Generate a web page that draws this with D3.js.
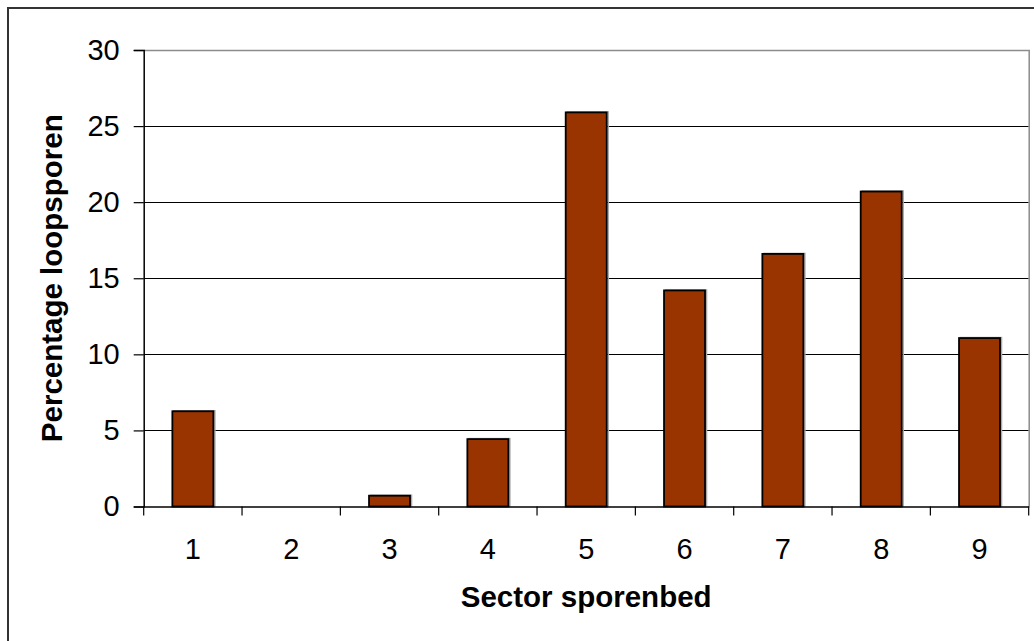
<!DOCTYPE html>
<html>
<head>
<meta charset="utf-8">
<script src="https://cdn.jsdelivr.net/npm/d3@7"></script>
<style>
  html, body { margin: 0; padding: 0; background: #fff; }
  svg { display: block; }
  text { font-family: "Liberation Sans", Arial, sans-serif; fill: #000; }
</style>
</head>
<body>
<svg id="chart" width="1034" height="641"></svg>
<script>
const categories = ["1", "2", "3", "4", "5", "6", "7", "8", "9"];
const values = [6.26, 0, 0.71, 4.43, 25.9, 14.2, 16.6, 20.7, 11.07];
const yTicks = [0, 5, 10, 15, 20, 25, 30];
const xTitle = "Sector sporenbed";
const yTitle = "Percentage loopsporen";

const svg = d3.select("#chart");
const pLeft = 143.7, pRight = 1028.7, pTop = 50, pBottom = 506.5;

// outer border
svg.append("rect").attr("x", 8).attr("y", 8).attr("width", 1040).attr("height", 650)
  .attr("fill", "#fff").attr("stroke", "#333").attr("stroke-width", 2);

const x = d3.scaleBand().domain(categories).range([pLeft, pRight]).padding(0);
const y = d3.scaleLinear().domain([0, 30]).range([pBottom, pTop]);

// gridlines
svg.append("g").selectAll("line").data(yTicks.filter(d => d > 0 && d < 30)).join("line")
  .attr("x1", pLeft).attr("x2", pRight)
  .attr("y1", d => Math.round(y(d)) + 0.5).attr("y2", d => Math.round(y(d)) + 0.5)
  .attr("stroke", "#000").attr("stroke-width", 1);

// plot border (grey top/right)
svg.append("path")
  .attr("d", `M${pLeft},${pTop + 0.5}H${pRight + 0.5}V${pBottom}`)
  .attr("fill", "none").attr("stroke", "#8c8c8c").attr("stroke-width", 1.5);

// bars
const bw = x.bandwidth() * 0.417;
const bars = svg.append("g");
bars.selectAll("rect.shadow").data(values).join("rect")
  .attr("class", "shadow")
  .attr("x", (d, i) => x(categories[i]) + (x.bandwidth() - bw) / 2 + 1.5)
  .attr("y", d => y(d) - 0.5)
  .attr("width", bw)
  .attr("height", d => pBottom - y(d))
  .attr("fill", "none").attr("stroke", "#aaa").attr("stroke-width", 1.5)
  .attr("display", d => d > 0 ? null : "none");
bars.selectAll("rect.bar").data(values).join("rect")
  .attr("class", "bar")
  .attr("x", (d, i) => x(categories[i]) + (x.bandwidth() - bw) / 2)
  .attr("y", d => y(d))
  .attr("width", bw)
  .attr("height", d => pBottom - y(d))
  .attr("fill", "#993300").attr("stroke", "#000").attr("stroke-width", 1.8)
  .attr("display", d => d > 0 ? null : "none");

// y axis
const yAxis = d3.axisLeft(y).tickValues(yTicks).tickSize(10).tickPadding(14).tickFormat(d3.format("d"));
const gy = svg.append("g").attr("transform", `translate(${pLeft},0)`).call(yAxis);
gy.select(".domain").attr("stroke", "#000").attr("stroke-width", 1.5);
gy.selectAll(".tick line").attr("stroke", "#000").attr("stroke-width", 1.2);
gy.selectAll(".tick text").attr("font-size", 29).attr("font-family", "Liberation Sans, Arial, sans-serif").attr("fill", "#000");

// x axis
const xAxis = d3.axisBottom(x).tickSize(0).tickPadding(32);
const gx = svg.append("g").attr("transform", `translate(0,${pBottom})`).call(xAxis);
gx.select(".domain").attr("stroke", "#000").attr("stroke-width", 1.5);
gx.selectAll(".tick text").attr("font-size", 29).attr("font-family", "Liberation Sans, Arial, sans-serif").attr("fill", "#000");
// boundary ticks
const boundaries = categories.map(c => x(c)).concat([pRight]);
svg.append("g").selectAll("line").data(boundaries).join("line")
  .attr("x1", d => d).attr("x2", d => d)
  .attr("y1", pBottom).attr("y2", pBottom + 9)
  .attr("stroke", "#000").attr("stroke-width", 1.2);

// titles
svg.append("text").attr("x", (pLeft + pRight) / 2).attr("y", 607)
  .attr("text-anchor", "middle").attr("font-size", 29.5).attr("font-weight", "bold")
  .text(xTitle);
svg.append("text")
  .attr("transform", `translate(62,${(pTop + pBottom) / 2}) rotate(-90)`)
  .attr("text-anchor", "middle").attr("font-size", 29.5).attr("font-weight", "bold")
  .text(yTitle);
</script>
</body>
</html>
